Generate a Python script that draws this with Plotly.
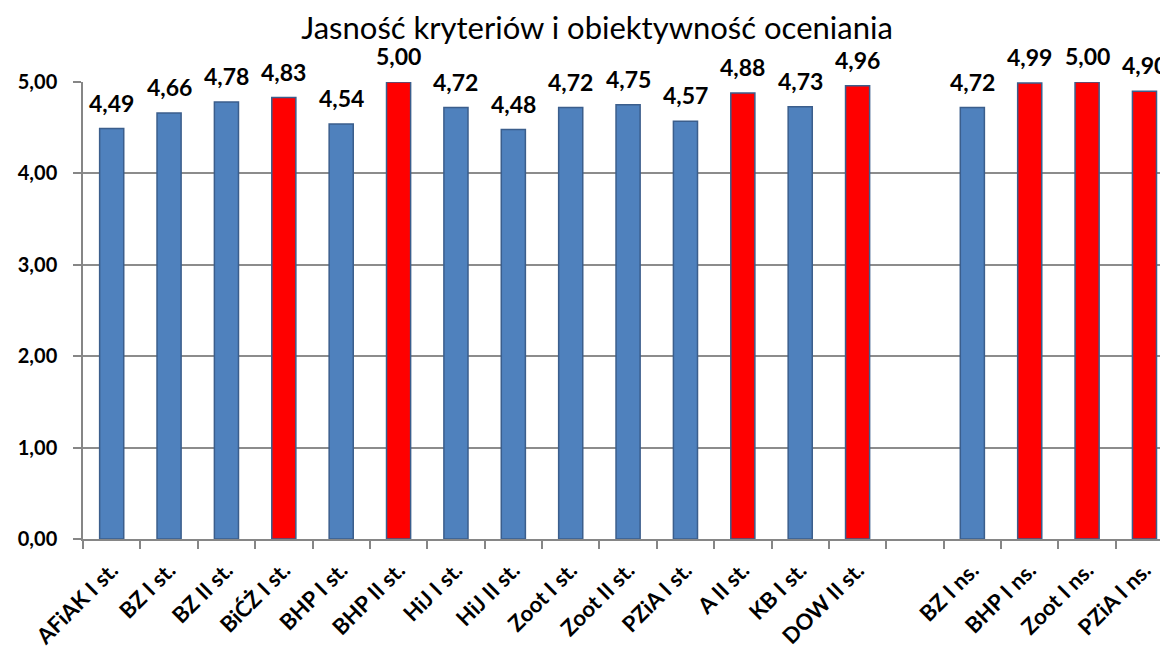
import plotly.graph_objects as go

title_text = "Jasność kryteriów i obiektywność oceniania"
categories = ["AFiAK I st.", "BZ I st.", "BZ II st.", "BiĆŻ I st.", "BHP I st.", "BHP II st.",
              "HiJ I st.", "HiJ II st.", "Zoot I st.", "Zoot II st.", "PZiA I st.", "A II st.",
              "KB I st.", "DOW II st.", " ", "BZ I ns.", "BHP I ns.", "Zoot I ns.", "PZiA I ns."]
values = [4.49, 4.66, 4.78, 4.83, 4.54, 5.00, 4.72, 4.48, 4.72, 4.75, 4.57, 4.88,
          4.73, 4.96, None, 4.72, 4.99, 5.00, 4.90]
highlight = [False, False, False, True, False, True, False, False, False, False, False, True,
             False, True, False, False, True, True, True]
ytick_vals = [0, 1, 2, 3, 4, 5]
ytick_text = ["0,00", "1,00", "2,00", "3,00", "4,00", "5,00"]

BLUE = "#4F81BD"
RED = "#FF0000"
EDGE = "#3B5E8C"
FONT = "Lato"
W, H = 1160, 643  # page body adds an 8px margin

colors = [RED if h else BLUE for h in highlight]

fig = go.Figure()
fig.add_trace(go.Bar(
    x=categories, y=values,
    marker=dict(color=colors, line=dict(color=EDGE, width=1.5)),
    width=0.42,
    cliponaxis=False,
    hoverinfo="x+y",
))

for c, v in zip(categories, values):
    if v is None:
        continue
    fig.add_annotation(
        x=c, y=v, xref="x", yref="y",
        text=f"{v:.2f}".replace(".", ","),
        showarrow=False, yanchor="bottom", yshift=10,
        font=dict(family=FONT, size=23, color="black", weight="bold"),
    )

fig.update_layout(
    width=W, height=H,
    margin=dict(l=75, r=0, t=74, b=111.5, autoexpand=False),
    paper_bgcolor="white", plot_bgcolor="white",
    showlegend=False,
    title=dict(text=title_text, x=(597 - 8) / W, xanchor="center", xref="container",
               y=1 - (28 - 8) / H, yanchor="middle", yref="container",
               font=dict(family=FONT, size=31, color="black")),
)
fig.update_xaxes(
    type="category",
    range=[-0.5, 18.41],
    tickangle=-45,
    tickson="boundaries",
    ticks="outside", ticklen=8, tickcolor="#868686", tickwidth=1.5,
    showline=True, linecolor="#868686", linewidth=1.5,
    showgrid=False, automargin=False,
    ticklabelstandoff=8,
    tickfont=dict(family=FONT, size=22, color="black", weight="bold"),
)
fig.update_yaxes(
    range=[0, 5],
    tickvals=ytick_vals, ticktext=ytick_text,
    ticks="outside", ticklen=8, tickcolor="#868686", tickwidth=1.5,
    showline=True, linecolor="#868686", linewidth=1.5,
    showgrid=True, gridcolor="#8C8C8C", gridwidth=1.5,
    zeroline=False, automargin=False,
    ticklabelstandoff=12,
    tickfont=dict(family=FONT, size=20, color="black", weight="bold"),
)

fig.write_html("out.html")
